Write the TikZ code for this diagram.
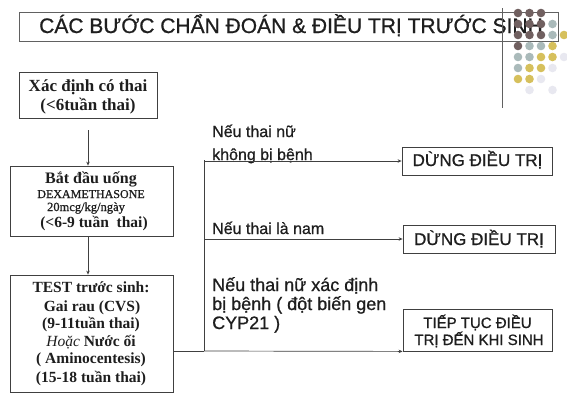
\documentclass[tikz,border=0pt]{standalone}
\usepackage{fontspec}
\setmainfont{Liberation Serif}
\setsansfont{Liberation Sans}[FakeBold=1.2]
\newfontfamily\sansheavy{Liberation Sans}[FakeBold=1.2,AutoFakeBold=0.8]
\newfontfamily\sermed{Liberation Serif}[AutoFakeBold=0.8]
\usetikzlibrary{arrows.meta}
\definecolor{ink}{RGB}{30,30,30}
\definecolor{dotb}{RGB}{112,96,96}
\definecolor{dotg}{RGB}{170,186,186}
\definecolor{doty}{RGB}{214,192,92}
\definecolor{dotf}{RGB}{232,232,240}
\begin{document}
\begin{tikzpicture}[x=1pt,y=-1pt,
  boxx/.style={draw=ink!85,line width=0.8pt,inner sep=0pt},
  lbl/.style={inner sep=0pt,anchor=base,text=ink},
  lblw/.style={inner sep=0pt,anchor=base west,text=ink},
  serb/.style={font=\bfseries\fontsize{#1}{#1}\selectfont},
  serm/.style={font=\sermed\bfseries\fontsize{#1}{#1}\selectfont},
  sans/.style={font=\sansheavy\bfseries\fontsize{#1}{#1}\selectfont},
  conn/.style={draw=ink!85,line width=0.7pt},
  arr/.style={conn,-{Stealth[length=4pt,width=3.5pt]}},
  dot/.style={fill=#1,draw=none}]
\useasboundingbox[fill=white] (0,0) rectangle (567,408);

% title
\node[boxx,draw=ink!70,line width=0.6pt,minimum width=539pt,minimum height=29pt] (tbox) at (288.5,26.5) {};
\node[lbl,sans=21] (title) at (291,33) {CÁC BƯỚC CHẨN ĐOÁN \& ĐIỀU TRỊ TRƯỚC SINH};

% boxes
\node[boxx,minimum width=138pt,minimum height=46pt] (b1) at (88,95) {};
\node[boxx,minimum width=163pt,minimum height=70pt] (b2) at (91.5,201) {};
\node[boxx,minimum width=163pt,minimum height=117pt] (b3) at (91.5,333.5) {};
\node[boxx,minimum width=150pt,minimum height=28pt] (d1) at (477,161) {};
\node[boxx,minimum width=152pt,minimum height=28pt] (d2) at (479,239) {};
\node[boxx,minimum width=149pt,minimum height=42pt] (t) at (477.5,330) {};

% box 1 text
\node[lbl,serb=17] (b1l1) at (88,91) {Xác định có thai};
\node[lbl,serb=17] (b1l2) at (88,110) {(<6tuần thai)};
% box 2 text
\node[lbl,serb=16] (b2l1) at (91,183) {Bắt đầu uống};
\node[lbl,serm=12] (b2l2) at (91,198) {DEXAMETHASONE};
\node[lbl,serm=12.5] (b2l3) at (86,211) {20mcg/kg/ngày};
\node[lbl,serb=15.5] (b2l4) at (94,227) {(<6-9 tuần\ \ thai)};
% box 3 text
\node[lbl,serb=15.5] (b3l1) at (91,292) {TEST trước sinh:};
\node[lbl,serb=15.5] (b3l2) at (92,311) {Gai rau (CVS)};
\node[lbl,serb=15.5] (b3l3) at (91,328) {(9-11tuần thai)};
\node[lbl,serb=15.5] (b3l4) at (91,346) {\mdseries\itshape Hoặc\upshape\bfseries{} Nước ối};
\node[lbl,serb=15.5] (b3l5) at (91,363) {( Aminocentesis)};
\node[lbl,serb=15.5] (b3l6) at (91,382) {(15-18 tuần thai)};

% right texts
\node[lbl,sans=17] (d1l) at (477.5,166) {DỪNG ĐIỀU TRỊ};
\node[lbl,sans=17] (d2l) at (479,245) {DỪNG ĐIỀU TRỊ};
\node[lbl,sans=15] (tl1) at (477.5,328) {TIẾP TỤC ĐIỀU};
\node[lbl,sans=15] (tl2) at (479,345) {TRỊ ĐẾN KHI SINH};

\node[lblw,sans=16] (c1a) at (212,137) {Nếu thai nữ};
\node[lblw,sans=16] (c1b) at (212,160) {không bị bệnh};
\node[lblw,sans=16] (c2) at (212,234) {Nếu thai là nam};
\node[lblw,sans=18] (c3a) at (212,291) {Nếu thai nữ xác định};
\node[lblw,sans=18] (c3b) at (212,310) {bị bệnh ( đột biến gen};
\node[lblw,sans=18] (c3c) at (212,329) {CYP21 )};

% connectors
\draw[arr,shorten <=12pt] (b1.south) -- (b1.south |- b2.north);
\draw[arr] (b2.south -| b1.south) -- (b1.south |- b3.north);
\coordinate (jt) at (204,160);
\coordinate (jb) at (204,351);
\draw[conn] (jt) -- (jb);
\draw[conn] (b3.east |- jb) -- (jb);
\draw[arr] (jt |- d1.west) -- (d1.west);
\draw[arr] (jt |- d2.west) -- (d2.west);
\draw[arr] (jb) -- (t.south west);

% decoration
\draw[ink!70,line width=0.5pt] (502,8) -- (502,108);
\foreach \c [count=\i from 0] in {dotb,dotb,dotb}{\fill[dot=\c] (518+11.5*\i,13) circle (4.3);}
\foreach \c [count=\i from 0] in {dotb,dotb,dotb,dotg}{\fill[dot=\c] (518+11.5*\i,24) circle (4.3);}
\foreach \c [count=\i from 0] in {dotb,dotb,dotb,dotg,doty}{\fill[dot=\c] (518+11.5*\i,35) circle (4.3);}
\foreach \c [count=\i from 0] in {dotb,dotg,dotg,doty}{\fill[dot=\c] (518+11.5*\i,46) circle (4.3);}
\foreach \c [count=\i from 0] in {dotg,dotg,doty,doty,dotf}{\fill[dot=\c] (518+11.5*\i,57) circle (4.3);}
\foreach \c [count=\i from 0] in {dotg,doty,doty,dotf}{\fill[dot=\c] (518+11.5*\i,68) circle (4.3);}
\foreach \c [count=\i from 0] in {doty,doty,dotf}{\fill[dot=\c] (518+11.5*\i,79) circle (4.3);}
\fill[dot=dotf] (529.5,90) circle (4.3);
\fill[dot=dotf] (552.5,90) circle (4.3);
\end{tikzpicture}
\end{document}
